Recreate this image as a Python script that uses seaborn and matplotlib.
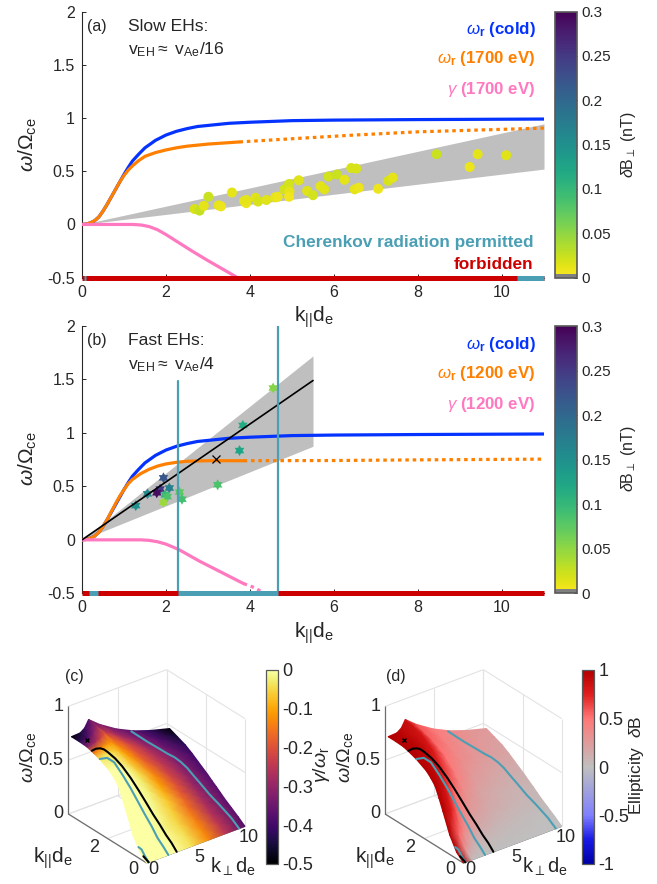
import numpy as np
import pandas as pd
import matplotlib
matplotlib.use("Agg")
import matplotlib.pyplot as plt
import seaborn as sns
from matplotlib.cm import ScalarMappable
from matplotlib.colors import LinearSegmentedColormap, ListedColormap, Normalize
from matplotlib.path import Path

# dispersion curves (a) and (b)
k_cold = [0, 0.1, 0.2, 0.3, 0.4, 0.5, 0.6, 0.7, 0.8, 0.9, 1.0, 1.1, 1.2, 1.35, 1.5, 1.75, 2.0, 2.25, 2.5, 2.75,
          3.0, 3.5, 4.0, 5.0, 6.0, 8.0, 11.0]
w_cold = [0, 0.004, 0.015, 0.035, 0.07, 0.125, 0.19, 0.26, 0.33, 0.4, 0.47, 0.535, 0.595, 0.66, 0.72, 0.79, 0.84,
          0.875, 0.9, 0.92, 0.93, 0.95, 0.96, 0.975, 0.98, 0.985, 0.99]

k_warm_a = [0, 0.1, 0.2, 0.3, 0.4, 0.5, 0.6, 0.7, 0.8, 0.9, 1.0, 1.1, 1.2, 1.35, 1.5, 1.75, 2.0, 2.25, 2.5, 3.0, 3.75]
w_warm_a = [0, 0.004, 0.015, 0.035, 0.07, 0.125, 0.19, 0.26, 0.33, 0.4, 0.46, 0.51, 0.55, 0.6, 0.64, 0.675, 0.7,
            0.72, 0.735, 0.755, 0.775]
k_dots_a = [3.75, 5.0, 6.5, 8.0, 11.0]
w_dots_a = [0.775, 0.805, 0.84, 0.87, 0.905]
k_gam_a = [0, 1.2, 1.3, 1.4, 1.5, 1.6, 1.8, 2.0, 2.3, 2.65, 3.0, 3.6, 3.9]
g_gam_a = [0, 0, -0.002, -0.005, -0.012, -0.02, -0.05, -0.095, -0.17, -0.257, -0.34, -0.476, -0.55]

k_warm_b = [0, 0.1, 0.2, 0.3, 0.4, 0.5, 0.6, 0.7, 0.8, 0.9, 1.0, 1.1, 1.2, 1.4, 1.6, 1.8, 2.0, 2.25, 2.5, 3.0, 3.85]
w_warm_b = [0, 0.004, 0.015, 0.035, 0.07, 0.125, 0.19, 0.265, 0.34, 0.41, 0.47, 0.525, 0.565, 0.62, 0.66, 0.69,
            0.71, 0.725, 0.735, 0.74, 0.74]
k_dots_b = [3.85, 6.0, 8.0, 11.0]
w_dots_b = [0.74, 0.742, 0.748, 0.755]
k_gam_b = [0, 1.4, 1.6, 1.8, 2.0, 2.3, 2.8, 3.3, 3.85]
g_gam_b = [0, 0, -0.005, -0.018, -0.04, -0.09, -0.2, -0.3, -0.41]
k_gam_dots_b = [3.85, 4.0, 4.13, 4.3]
g_gam_dots_b = [-0.41, -0.43, -0.453, -0.49]

# eh observations
slow_k = [2.68, 2.8, 2.9, 3.01, 3.25, 3.31, 3.57, 3.86, 3.91, 3.91, 4.13, 4.19, 4.39, 4.6, 4.66, 4.82,
          4.93, 4.94, 4.93, 5.16, 5.36, 5.5, 5.68, 5.77, 5.87, 6.07, 6.25, 6.41, 6.53, 6.49, 6.59,
          7.05, 7.29, 7.4, 8.44, 9.23, 9.42, 10.1]
slow_w = [0.145, 0.13, 0.175, 0.26, 0.18, 0.17, 0.3, 0.22, 0.2, 0.23, 0.25, 0.215, 0.23, 0.255, 0.26, 0.33,
          0.38, 0.31, 0.26, 0.415, 0.315, 0.275, 0.36, 0.33, 0.45, 0.47, 0.42, 0.53, 0.525, 0.33, 0.345,
          0.335, 0.41, 0.44, 0.66, 0.54, 0.66, 0.65]
slow_db = [0.018, 0.026, 0.012, 0.024, 0.012, 0.009, 0.012, 0.012, 0.009, 0.012, 0.015, 0.018, 0.015, 0.012, 0.009, 0.021,
           0.021, 0.012, 0.007, 0.015, 0.015, 0.021, 0.012, 0.015, 0.021, 0.024, 0.012, 0.018, 0.018, 0.012, 0.009,
           0.009, 0.018, 0.012, 0.024, 0.009, 0.012, 0.015]

fast_k = [1.28, 1.56, 1.86, 1.94, 2.08, 1.98, 2.03, 1.94, 2.32, 2.38, 3.23, 3.75, 3.83, 4.55, 1.78]
fast_w = [0.32, 0.43, 0.475, 0.58, 0.485, 0.42, 0.405, 0.35, 0.447, 0.38, 0.515, 0.835, 1.07, 1.42, 0.44]
fast_db = [0.15, 0.16, 0.25, 0.22, 0.17, 0.1, 0.085, 0.045, 0.075, 0.09, 0.085, 0.125, 0.115, 0.055, 0.29]

# grey bands, panel by panel
band_a_k = [0, 11]
band_a_hi = [0, 0.945]
band_a_lo = [0, 0.52]
band_b_k = [0, 5.5]
band_b_hi = [0, 1.72]
band_b_lo = [0, 0.875]
fit_b_w = [0, 1.49]

# cherenkov ranges along the bottom
cher_a = [(0.05, 0.1), (10.35, 11)]
cher_b = [(0.17, 0.38), (2.29, 4.67)]
cher_lines_k = [2.29, 4.67]
cher_lines_top = [1.49, 2.0]

# surface tables for (c) and (d): rows are k_par, columns k_perp
k_perp = np.array([0, 0.9, 1.35, 1.75, 2.9, 4.6, 6.3, 8, 10])
k_par = np.array([0, 0.35, 0.7, 1.05, 1.25, 1.45, 1.67, 1.9, 2.4, 2.7, 3.05, 3.45, 3.85])
omega = np.array([
    [0, 0, 0, 0, 0, 0, 0, 0, 0],
    [0.06, 0.06, 0.06, 0.06, 0.055, 0.055, 0.05, 0.05, 0.05],
    [0.18, 0.17, 0.162, 0.155, 0.14, 0.125, 0.11, 0.1, 0.095],
    [0.36, 0.34, 0.325, 0.31, 0.27, 0.22, 0.18, 0.16, 0.14],
    [0.46, 0.44, 0.42, 0.4, 0.35, 0.285, 0.235, 0.2, 0.17],
    [0.55, 0.52, 0.5, 0.48, 0.41, 0.34, 0.28, 0.24, 0.2],
    [0.6, 0.58, 0.56, 0.54, 0.47, 0.39, 0.325, 0.275, 0.23],
    [0.64, 0.63, 0.615, 0.6, 0.53, 0.44, 0.37, 0.31, 0.265],
    [0.69, 0.72, 0.715, 0.71, 0.63, 0.52, 0.44, 0.38, 0.33],
    [0.71, 0.74, 0.75, 0.755, 0.665, 0.555, 0.47, 0.415, 0.37],
    [0.73, 0.75, 0.77, 0.8, 0.7, 0.59, 0.5, 0.45, 0.41],
    [0.735, 0.745, 0.77, 0.82, 0.725, 0.62, 0.54, 0.485, 0.44],
    [0.735, 0.74, 0.77, 0.835, 0.75, 0.65, 0.575, 0.52, 0.47],
])
growth = np.array([
    [0, 0, 0, 0, 0, -0.04, -0.13, -0.25, -0.38],
    [0, 0, 0, 0, 0, -0.04, -0.13, -0.25, -0.37],
    [0, 0, 0, 0, -0.01, -0.05, -0.14, -0.26, -0.37],
    [0, 0, 0, 0, -0.01, -0.06, -0.16, -0.27, -0.37],
    [0, 0, 0, 0, -0.015, -0.07, -0.17, -0.28, -0.37],
    [0, 0, 0, 0, -0.02, -0.09, -0.19, -0.29, -0.37],
    [0, 0, 0, 0, -0.03, -0.11, -0.2, -0.3, -0.37],
    [0, 0, 0, -0.01, -0.05, -0.13, -0.22, -0.3, -0.38],
    [-0.03, -0.04, -0.05, -0.07, -0.11, -0.18, -0.25, -0.32, -0.39],
    [-0.14, -0.12, -0.11, -0.12, -0.14, -0.2, -0.26, -0.33, -0.4],
    [-0.33, -0.27, -0.23, -0.2, -0.18, -0.22, -0.28, -0.35, -0.42],
    [-0.43, -0.38, -0.33, -0.29, -0.25, -0.28, -0.33, -0.38, -0.45],
    [-0.5, -0.45, -0.41, -0.37, -0.32, -0.34, -0.37, -0.42, -0.5],
])
ellip = np.array([
    [1, 0, 0, 0, 0, 0, 0, 0, 0],
    [1, 0.3, 0.17, 0.1, 0.05, 0.03, 0.02, 0.01, 0.01],
    [1, 0.55, 0.4, 0.3, 0.15, 0.08, 0.05, 0.03, 0.02],
    [1, 0.75, 0.58, 0.45, 0.25, 0.15, 0.1, 0.07, 0.05],
    [1, 0.8, 0.63, 0.5, 0.3, 0.18, 0.12, 0.08, 0.06],
    [1, 0.85, 0.68, 0.55, 0.35, 0.2, 0.13, 0.1, 0.07],
    [1, 0.88, 0.74, 0.62, 0.4, 0.24, 0.17, 0.12, 0.09],
    [1, 0.9, 0.79, 0.68, 0.45, 0.27, 0.2, 0.14, 0.1],
    [1, 0.93, 0.85, 0.78, 0.5, 0.35, 0.26, 0.2, 0.15],
    [1, 0.94, 0.87, 0.8, 0.52, 0.38, 0.29, 0.23, 0.18],
    [1, 0.95, 0.88, 0.82, 0.55, 0.42, 0.32, 0.26, 0.2],
    [1, 0.96, 0.9, 0.85, 0.58, 0.45, 0.35, 0.28, 0.23],
    [1, 0.97, 0.92, 0.87, 0.6, 0.47, 0.38, 0.3, 0.25],
])

# curves on the surface: k_perp, k_par, omega
black_p = [3.05, 3.03, 2.96, 2.83, 2.66, 2.44, 2.17, 1.86, 1.49, 1.17, 0.81, 0.62, 0.45, 0.22, 0]
black_q = [0, 0.25, 0.5, 0.75, 1, 1.25, 1.5, 1.75, 2, 2.2, 2.4, 2.5, 2.6, 2.7, 2.8]
black_w = [0, 0.054, 0.1025, 0.174, 0.245, 0.334, 0.43, 0.527, 0.62, 0.681, 0.73, 0.75, 0.754, 0.747, 0.724]
teal_p = [2.2, 2.17, 2.1, 2.0, 1.82, 1.6, 1.34, 1.03, 0.67, 0.36, 0]
teal_q = [0, 0.25, 0.5, 0.75, 1, 1.25, 1.5, 1.75, 2, 2.2, 2.4]
teal_w = [0, 0.052, 0.104, 0.187, 0.273, 0.373, 0.48, 0.584, 0.685, 0.714, 0.693]
teal2_p = [6.1, 6.8, 7.4, 7.8, 8.1, 8.35, 8.5, 8.75, 9, 9.2, 9.4, 9.4, 9.4]
teal2_q = [3.85, 3.4, 3, 2.85, 2.65, 2.45, 2.2, 2.0, 1.8, 1.4, 1, 0.4, 0]
teal2_w = [0.577, 0.51, 0.46, 0.425, 0.405, 0.375, 0.343, 0.286, 0.232, 0.162, 0.106, 0.053, 0]
teal3_p = [0, 0.2, 0.3, 0.2]
teal3_q = [0.42, 0.36, 0.24, 0]
teal3_w = [0.1, 0.077, 0.025, 0]
black2_p = [0.2, 0.2]
black2_q = [0.27, 0]
black2_w = [0.025, 0]

BLUE = "#0433ff"
ORANGE = "#ff8000"
PINK = "#ff79c0"
TEAL = "#4b9fb5"
RED = "#cc0000"
GREY = "#bfbfbf"
INK = "#262626"
W, H = 657, 884

sns.set_theme(style="ticks", rc={
    "xtick.direction": "in", "ytick.direction": "in",
    "xtick.major.size": 3, "ytick.major.size": 3,
    "xtick.major.width": 0.7, "ytick.major.width": 0.7,
    "xtick.major.pad": 5, "ytick.major.pad": 5,
    "xtick.labelsize": 11.5, "ytick.labelsize": 11.5,
    "axes.linewidth": 0.8, "axes.edgecolor": INK,
    "xtick.color": INK, "ytick.color": INK, "text.color": INK,
})
plt.rcParams["font.family"] = ["Liberation Sans", "DejaVu Sans"]
plt.rcParams["mathtext.fontset"] = "custom"
plt.rcParams["mathtext.rm"] = "Liberation Sans"
plt.rcParams["mathtext.it"] = "Liberation Sans:italic"
plt.rcParams["mathtext.bf"] = "Liberation Sans:bold"

fig = plt.figure(figsize=(W / 100, H / 100), dpi=100)


def px_axes(x0, y0, x1, y1):
    return fig.add_axes([x0 / W, 1 - y1 / H, (x1 - x0) / W, (y1 - y0) / H])


db_colors = plt.get_cmap("viridis_r")(np.linspace(0, 1, 256))
db_colors[:4] = [0.5, 0.5, 0.5, 1]
db_cmap = ListedColormap(db_colors)
db_norm = Normalize(0, 0.3)
line_db = plt.get_cmap("viridis_r")

# six pointed star, two overlaid triangles
star_ang = np.deg2rad(np.arange(0, 360, 30))
star_rad = np.tile([1, 0.577], 6)
star_xy = np.column_stack([star_rad * np.sin(star_ang), star_rad * np.cos(star_ang)])
hexagram = Path(np.vstack([star_xy, star_xy[0]]), closed=True)


def curve(ax, x, y, color, lw=2.3, dots=False, z=3):
    kw = {"linestyle": (0, (1.1, 1.2))} if dots else {}
    sns.lineplot(x=x, y=y, ax=ax, color=color, lw=lw, sort=False, estimator=None, zorder=z,
                 legend=False, **kw)


def top_panel(y0, y1, band, warm, dots, gam, cher, labels, tag, title, speed):
    ax = px_axes(82, y0, 544, y1)
    ax.fill_between(band[0], band[1], band[2], color=GREY, lw=0, zorder=1)
    curve(ax, k_cold, w_cold, BLUE)
    curve(ax, dots[0], dots[1], ORANGE, dots=True)
    curve(ax, warm[0], warm[1], ORANGE)
    curve(ax, gam[0], gam[1], PINK)
    ax.set_xlim(0, 11)
    ax.set_ylim(-0.5, 2)
    ax.set_xticks([0, 2, 4, 6, 8, 10])
    ax.set_yticks([-0.5, 0, 0.5, 1, 1.5, 2])
    ax.set_yticklabels(["-0.5", "0", "0.5", "1", "1.5", "2"])
    ax.set_xlabel("")
    ax.set_ylabel("")
    sns.despine(ax=ax)
    ax.plot([0, 11], [-0.5, -0.5], color=RED, lw=3.6, solid_capstyle="butt", clip_on=False, zorder=6)
    for a, b in cher:
        ax.plot([a, b], [-0.5, -0.5], color=TEAL, lw=3.6, solid_capstyle="butt", clip_on=False, zorder=7)
    ax.text(0.12, 1.86, tag, fontsize=11.5, va="center")
    ax.text(1.1, 1.86, title, fontsize=12.6, va="center")
    ax.text(1.1, 1.64, speed, fontsize=12.6, va="center")
    ax.text(10.8, 1.83, labels[0], color=BLUE, fontsize=12.2, fontweight="bold", ha="right", va="center")
    ax.text(10.8, 1.555, labels[1], color=ORANGE, fontsize=12.2, fontweight="bold", ha="right", va="center")
    ax.text(10.8, 1.27, labels[2], color=PINK, fontsize=12.2, fontweight="bold", ha="right", va="center")
    fig.text(28 / W, 1 - (y0 + 133) / H, r"$\omega/\Omega_{\mathrm{ce}}$", fontsize=15, rotation=90,
             ha="center", va="center")
    fig.text(314 / W, 1 - (y1 + 40) / H, r"$\mathrm{k_{||}d_e}$", fontsize=15, ha="center", va="center")

    cax = px_axes(555, y0, 577, y1)
    cb = fig.colorbar(ScalarMappable(norm=db_norm, cmap=db_cmap), cax=cax)
    cb.set_ticks([0, 0.05, 0.1, 0.15, 0.2, 0.25, 0.3])
    cb.set_ticklabels(["0", "0.05", "0.1", "0.15", "0.2", "0.25", "0.3"])
    cb.ax.tick_params(direction="in", length=2.5, pad=3, labelsize=11, color=INK)
    cb.outline.set_edgecolor("#595959")
    cb.outline.set_linewidth(1.2)
    fig.text(628 / W, 1 - (y0 + 133) / H, r"$\delta\mathrm{B}_{\perp}$ (nT)", fontsize=11.5, rotation=90,
             ha="center", va="center")
    return ax


ax_a = top_panel(11.5, 277.7, (band_a_k, band_a_lo, band_a_hi), (k_warm_a, w_warm_a), (k_dots_a, w_dots_a),
                 (k_gam_a, g_gam_a), cher_a,
                 [r"$\mathit{\omega}_{\mathbf{r}}$ (cold)", r"$\mathit{\omega}_{\mathbf{r}}$ (1700 eV)",
                  r"$\mathit{\gamma}$ (1700 eV)"],
                 "(a)", "Slow EHs:", r"$\mathrm{v_{EH}}$$\approx$ $\mathrm{v_{Ae}}$/16")
sns.scatterplot(x=slow_k, y=slow_w, hue=slow_db, palette=line_db, hue_norm=db_norm, s=52, linewidth=0,
                legend=False, ax=ax_a, zorder=4, clip_on=False)
ax_a.text(10.75, -0.165, "Cherenkov radiation permitted", color=TEAL, fontsize=12.4, fontweight="bold",
          ha="right", va="center")
ax_a.text(10.75, -0.38, "forbidden", color=RED, fontsize=12.4, fontweight="bold", ha="right", va="center")

ax_b = top_panel(326, 593.3, (band_b_k, band_b_lo, band_b_hi), (k_warm_b, w_warm_b), (k_dots_b, w_dots_b),
                 (k_gam_b, g_gam_b), cher_b,
                 [r"$\mathit{\omega}_{\mathbf{r}}$ (cold)", r"$\mathit{\omega}_{\mathbf{r}}$ (1200 eV)",
                  r"$\mathit{\gamma}$ (1200 eV)"],
                 "(b)", "Fast EHs:", r"$\mathrm{v_{EH}}$$\approx$ $\mathrm{v_{Ae}}$/4")
curve(ax_b, k_gam_dots_b, g_gam_dots_b, PINK, dots=True)
sns.scatterplot(x=fast_k, y=fast_w, hue=fast_db, palette=line_db, hue_norm=db_norm, s=62, linewidth=0,
                marker=hexagram, legend=False, ax=ax_b, zorder=2.5)
curve(ax_b, band_b_k, fit_b_w, "black", lw=1.2, z=5)
ax_b.plot([3.2], [0.76], marker="x", color="black", ms=6, mew=0.9, ls="none", zorder=6)
for k, top in zip(cher_lines_k, cher_lines_top):
    curve(ax_b, [k, k], [-0.5, top], TEAL, lw=1.6, z=5)


def project(p, q, w):
    # fixed view of the 3d box, one axes unit is one pixel
    p, q, w = np.asarray(p, float), np.asarray(q, float), np.asarray(w, float)
    return 9.83 * p - 19.58 * q, 3.67 * p + 12.25 * q + 107.67 * w


def box_line(ax, a, b, color="#e3e3e3", lw=0.8, z=1):
    xs, ys = project([a[0], b[0]], [a[1], b[1]], [a[2], b[2]])
    ax.plot(xs, ys, color=color, lw=lw, zorder=z, solid_capstyle="butt")


def surface_panel(ox, field, cmap, norm, tag, ylab_dx, par_dx, perp_dx, tag_dx):
    ax = px_axes(ox - 97, 660, ox + 115, 884)
    ax.set_xlim(-97, 115)
    ax.set_ylim(-21, 203)
    ax.axis("off")
    # back walls and floor grid
    for w in [0, 0.5, 1]:
        box_line(ax, (0, 4, w), (10, 4, w))
        box_line(ax, (10, 4, w), (10, 0, w))
    for p in [0, 5, 10]:
        box_line(ax, (p, 4, 0), (p, 4, 1))
        box_line(ax, (p, 4, 0), (p, 0, 0))
    for q in [0, 2, 4]:
        box_line(ax, (10, q, 0), (10, q, 1))
        box_line(ax, (0, q, 0), (10, q, 0))
    # front axes
    box_line(ax, (0, 4, 0), (0, 4, 1), color="#6e6e6e", lw=0.9, z=2)
    box_line(ax, (0, 4, 0), (0, 0, 0), color="#6e6e6e", lw=0.9, z=2)
    box_line(ax, (0, 0, 0), (10, 0, 0), color="#6e6e6e", lw=0.9, z=2)

    P, Q = np.meshgrid(k_perp, k_par)
    X, Y = project(P, Q, omega)
    ax.pcolormesh(X, Y, field, shading="gouraud", cmap=cmap, norm=norm, zorder=3, rasterized=True)

    for ps, qs, ws, col in [(teal_p, teal_q, teal_w, TEAL), (teal2_p, teal2_q, teal2_w, TEAL),
                            (teal3_p, teal3_q, teal3_w, TEAL), (black_p, black_q, black_w, "black"),
                            (black2_p, black2_q, black2_w, "black")]:
        xs, ys = project(ps, qs, ws)
        curve(ax, xs, ys, col, lw=1.5, z=4)
    mx, my = project(0.3, 3.2, 0.77)
    ax.plot([mx], [my], marker="x", color="black", ms=3.5, mew=1, ls="none", zorder=5)

    for w, s in zip([0, 0.5, 1], ["0", "0.5", "1"]):
        _, y = project(0, 4, w)
        ax.text(-83, y, s, fontsize=13, ha="right", va="center")
    ax.text(-53, 16, "2", fontsize=13, ha="center", va="center")
    ax.text(-13, -7, "0", fontsize=13, ha="center", va="center")
    ax.text(7, -7, "0", fontsize=13, ha="center", va="center")
    ax.text(53, 6, "5", fontsize=13, ha="center", va="center")
    ax.text(102, 25, "10", fontsize=13, ha="center", va="center")
    ax.text(ylab_dx, 106, r"$\omega/\Omega_{\mathrm{ce}}$", fontsize=14, rotation=90, ha="center", va="center")
    ax.text(par_dx, 5, r"$\mathrm{k_{||}d_e}$", fontsize=15, ha="center", va="center")
    ax.text(perp_dx, -4, r"$\mathrm{k_{\perp}d_e}$", fontsize=14.5, ha="center", va="center")
    ax.text(tag_dx, 186, tag, fontsize=11.5, ha="center", va="center")


gr_norm = Normalize(-0.5, 0)
ell_cmap = LinearSegmentedColormap.from_list("ellip", [
    (0.0, (0.0, 0.0, 0.65)), (0.125, (0.1, 0.1, 0.9)), (0.25, (0.5, 0.5, 1.0)), (0.5, (0.75, 0.75, 0.75)),
    (0.75, (1.0, 0.47, 0.47)), (0.875, (0.88, 0.12, 0.12)), (1.0, (0.7, 0.0, 0.0))])
ell_norm = Normalize(-1, 1)

surface_panel(146.7, growth, "inferno", gr_norm, "(c)", -119, -94, 86, -72)
surface_panel(463.4, ellip, ell_cmap, ell_norm, "(d)", -118, -88, 82, -68)


def small_bar(x0, x1, cmap, norm, ticks, labels, label, label_x, size):
    cax = px_axes(x0, 670, x1, 864)
    cb = fig.colorbar(ScalarMappable(norm=norm, cmap=cmap), cax=cax)
    cb.set_ticks(ticks)
    cb.set_ticklabels(labels)
    cb.ax.tick_params(direction="in", length=2, pad=3, labelsize=13, color=INK)
    cb.outline.set_edgecolor("#595959")
    cb.outline.set_linewidth(0.9)
    fig.text(label_x / W, 1 - 765 / H, label, fontsize=size, rotation=90, ha="center", va="center")


small_bar(265.7, 278.3, "inferno", gr_norm, [0, -0.1, -0.2, -0.3, -0.4, -0.5],
          ["0", "-0.1", "-0.2", "-0.3", "-0.4", "-0.5"], r"$\gamma/\omega_{\mathrm{r}}$", 321, 14)
small_bar(581.7, 594, ell_cmap, ell_norm, [1, 0.5, 0, -0.5, -1],
          ["1", "0.5", "0", "-0.5", "-1"], r"Ellipticity  $\delta$B", 637, 12.5)

fig.savefig("out.png", dpi=100)
